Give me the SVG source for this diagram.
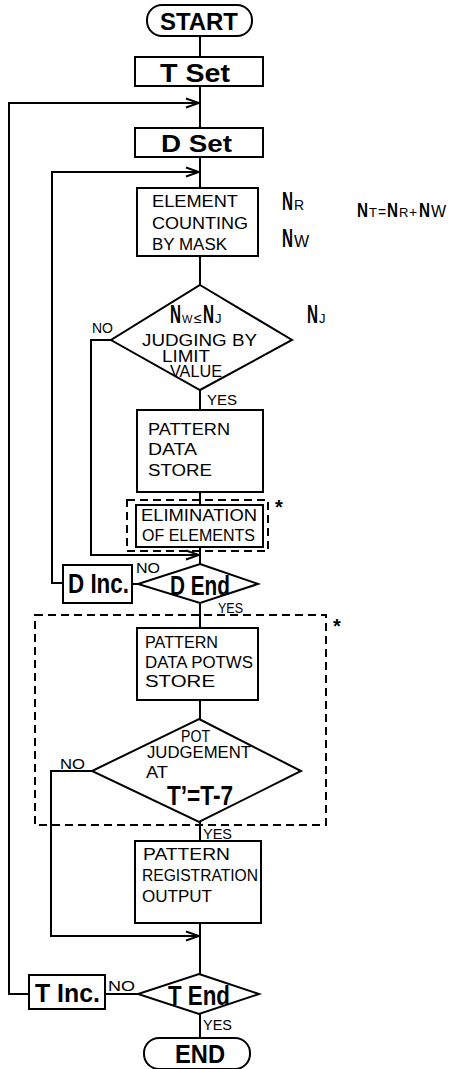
<svg xmlns="http://www.w3.org/2000/svg" width="457" height="1069" viewBox="0 0 457 1069">
  <style>
    .ln { fill: none; stroke: #000; stroke-width: 2; }
    .dash { fill: none; stroke: #000; stroke-width: 2; stroke-dasharray: 8 5; }
    .box { fill: #fff; stroke: #000; stroke-width: 2; }
    .b { font-family: 'Liberation Sans Narrow', 'Liberation Sans', Arial, sans-serif; font-weight: bold; fill: #000; }
    .t { font-family: 'Liberation Sans', Arial, sans-serif; font-size: 16px; fill: #000; }
    .s { font-family: 'Liberation Sans', Arial, sans-serif; font-size: 15px; fill: #000; }
    .m { font-family: 'Liberation Sans', Arial, sans-serif; fill: #000; }
    /* heavy tall capital N used in the count symbols */
    .nb { font-family: 'Liberation Sans', Arial, sans-serif; font-weight: bold; font-size: 15.2px; fill: #000; }
  </style>
  <defs>
    <marker id="arr" markerUnits="userSpaceOnUse" markerWidth="16" markerHeight="12" refX="14" refY="6" orient="auto">
      <path d="M1,1.5 L14,6 L1,10.5" fill="none" stroke="#000" stroke-width="2"/>
    </marker>
  </defs>
  <rect width="457" height="1069" fill="#fff"/>

  <!-- connectors -->
  <g id="connectors">
    <!-- main spine -->
    <path class="ln" d="M200,36 V57 M200,86 V128 M200,157 V188 M200,256 V285 M200,390 V410 M200,492 V505 M200,547 V564 M200,603 V628 M200,700 V719 M200,822 V841 M200,923 V974 M200,1014 V1038"/>
    <!-- T loop -->
    <path class="ln" d="M29,994 H9 V103 H199" marker-end="url(#arr)"/>
    <!-- D loop -->
    <path class="ln" d="M63,583 H52 V172 H199" marker-end="url(#arr)"/>
    <!-- limit judgement NO -->
    <path class="ln" d="M111,340 H91 V555 H199" marker-end="url(#arr)"/>
    <!-- pot judgement NO -->
    <path class="ln" d="M92,771 H51 V936 H199" marker-end="url(#arr)"/>
    <!-- end tests to increment boxes -->
    <path class="ln" d="M138,584 H132"/>
    <path class="ln" d="M138,994 H105"/>
  </g>

  <g id="start">
    <rect class="box" x="147" y="5" width="105" height="31" rx="15" ry="15"/>
    <text class="b" x="160" y="30" font-size="24" textLength="78" lengthAdjust="spacingAndGlyphs">START</text>
  </g>

  <g id="t-set">
    <rect class="box" x="135" y="57" width="128" height="29"/>
    <text class="b" x="160" y="82" font-size="26" textLength="70" lengthAdjust="spacingAndGlyphs">T Set</text>
  </g>

  <g id="d-set">
    <rect class="box" x="135" y="128" width="128" height="29"/>
    <text class="b" x="161" y="152" font-size="24" textLength="71" lengthAdjust="spacingAndGlyphs">D Set</text>
  </g>

  <g id="element-counting">
    <rect class="box" x="137" y="188" width="121" height="68"/>
    <text class="t" x="152" y="207" textLength="86" lengthAdjust="spacingAndGlyphs">ELEMENT</text>
    <text class="t" x="152" y="229" textLength="96" lengthAdjust="spacingAndGlyphs">COUNTING</text>
    <text class="t" x="152" y="250" textLength="75" lengthAdjust="spacingAndGlyphs">BY MASK</text>
  </g>

  <g id="counts">
    <text class="nb" transform="translate(282,210) scale(1,1.65)">N</text>
    <text class="m" x="294" y="210" font-size="14">R</text>
    <text class="nb" transform="translate(282,247) scale(1,1.65)">N</text>
    <text class="m" x="294" y="247" font-size="16">W</text>
    <!-- total count relation -->
    <text class="nb" transform="translate(357,217) scale(1,1.38)">N</text>
    <text class="m" x="369" y="217" font-size="13">T</text>
    <text class="m" x="378" y="217" font-size="14">=</text>
    <text class="nb" transform="translate(387,217) scale(1,1.38)">N</text>
    <text class="m" x="399" y="217" font-size="13">R</text>
    <text class="m" x="409" y="217" font-size="14">+</text>
    <text class="nb" transform="translate(419,217) scale(1,1.38)">N</text>
    <text class="m" x="431" y="217" font-size="16">W</text>
  </g>

  <g id="limit-judge">
    <polygon class="box" points="200,285 292,340 200,390 111,340"/>
    <text class="nb" transform="translate(170,323) scale(1,1.65)">N</text>
    <text class="m" x="182" y="323" font-size="11">W</text>
    <text class="m" x="194" y="323" font-size="14">≤</text>
    <text class="nb" transform="translate(203,323) scale(1,1.65)">N</text>
    <text class="m" x="215" y="323" font-size="13">J</text>
    <text class="t" x="142" y="346" textLength="115" lengthAdjust="spacingAndGlyphs">JUDGING BY</text>
    <text class="t" x="162" y="362" textLength="48" lengthAdjust="spacingAndGlyphs">LIMIT</text>
    <text class="t" x="170" y="377" textLength="52" lengthAdjust="spacingAndGlyphs">VALUE</text>
  </g>

  <g id="limit-value">
    <text class="nb" transform="translate(307,323) scale(1,1.65)">N</text>
    <text class="m" x="319" y="323" font-size="13">J</text>
  </g>

  <g id="labels">
    <text class="s" x="92" y="333" textLength="21" lengthAdjust="spacingAndGlyphs">NO</text>
    <text class="s" x="207" y="405" textLength="30" lengthAdjust="spacingAndGlyphs">YES</text>
    <text class="s" x="136" y="573" textLength="24" lengthAdjust="spacingAndGlyphs">NO</text>
    <text class="s" x="218" y="613" textLength="25" lengthAdjust="spacingAndGlyphs">YES</text>
    <text class="s" x="60" y="769" textLength="25" lengthAdjust="spacingAndGlyphs">NO</text>
    <text class="s" x="203" y="839" textLength="29" lengthAdjust="spacingAndGlyphs">YES</text>
    <text class="s" x="108" y="991" textLength="27" lengthAdjust="spacingAndGlyphs">NO</text>
    <text class="s" x="203" y="1030" textLength="29" lengthAdjust="spacingAndGlyphs">YES</text>
  </g>

  <g id="pattern-store">
    <rect class="box" x="137" y="410" width="126" height="82"/>
    <text class="t" x="148" y="435" textLength="82" lengthAdjust="spacingAndGlyphs">PATTERN</text>
    <text class="t" x="148" y="455" textLength="49" lengthAdjust="spacingAndGlyphs">DATA</text>
    <text class="t" x="148" y="476" textLength="64" lengthAdjust="spacingAndGlyphs">STORE</text>
  </g>

  <g id="elimination">
    <rect class="dash" x="127" y="500" width="141" height="51"/>
    <rect class="box" x="136" y="505" width="127" height="42"/>
    <text class="t" x="141" y="521" textLength="116" lengthAdjust="spacingAndGlyphs">ELIMINATION</text>
    <text class="t" x="142" y="541" textLength="113" lengthAdjust="spacingAndGlyphs">OF ELEMENTS</text>
    <text class="b" x="275" y="514" font-size="20">*</text>
  </g>

  <g id="d-end">
    <polygon class="box" points="200,564 258,584 200,603 138,584"/>
    <text class="b" x="170" y="595" font-size="27" textLength="60" lengthAdjust="spacingAndGlyphs">D End</text>
  </g>

  <g id="d-inc">
    <rect class="box" x="63" y="565" width="69" height="38"/>
    <text class="b" transform="translate(68,593) scale(1,1.2)" font-size="22.4">D Inc.</text>
  </g>

  <g id="pot-section">
    <rect class="dash" x="35" y="615" width="291" height="210"/>
    <text class="b" x="333" y="633" font-size="20">*</text>
  </g>

  <g id="potws-store">
    <rect class="box" x="137" y="628" width="121" height="72"/>
    <text class="t" x="145" y="648" textLength="73" lengthAdjust="spacingAndGlyphs">PATTERN</text>
    <text class="t" x="145" y="668" textLength="108" lengthAdjust="spacingAndGlyphs">DATA POTWS</text>
    <text class="t" x="145" y="687" textLength="70" lengthAdjust="spacingAndGlyphs">STORE</text>
  </g>

  <g id="pot-judge">
    <polygon class="box" points="199,719 301,771 199,822 92,771"/>
    <text class="t" x="181" y="742" textLength="29" lengthAdjust="spacingAndGlyphs">POT</text>
    <text class="t" x="147" y="758" textLength="104" lengthAdjust="spacingAndGlyphs">JUDGEMENT</text>
    <text class="t" x="146" y="778" textLength="22" lengthAdjust="spacingAndGlyphs">AT</text>
    <text class="b" x="167" y="805" font-size="27" textLength="66" lengthAdjust="spacingAndGlyphs">T’=T-7</text>
  </g>

  <g id="registration-output">
    <rect class="box" x="135" y="841" width="126" height="82"/>
    <text class="t" x="143" y="860" textLength="87" lengthAdjust="spacingAndGlyphs">PATTERN</text>
    <text class="t" x="142" y="881" textLength="116" lengthAdjust="spacingAndGlyphs">REGISTRATION</text>
    <text class="t" x="142" y="902" textLength="70" lengthAdjust="spacingAndGlyphs">OUTPUT</text>
  </g>

  <g id="t-end">
    <polygon class="box" points="199,974 259,994 199,1014 138,994"/>
    <text class="b" x="168" y="1005" font-size="27" textLength="62" lengthAdjust="spacingAndGlyphs">T End</text>
  </g>

  <g id="t-inc">
    <rect class="box" x="29" y="975" width="76" height="34"/>
    <text class="b" x="35" y="1002" font-size="26" textLength="65" lengthAdjust="spacingAndGlyphs">T Inc.</text>
  </g>

  <g id="end">
    <rect class="box" x="144" y="1038" width="106" height="31" rx="15" ry="15"/>
    <text class="b" x="175" y="1063" font-size="25" textLength="50" lengthAdjust="spacingAndGlyphs">END</text>
  </g>
</svg>
